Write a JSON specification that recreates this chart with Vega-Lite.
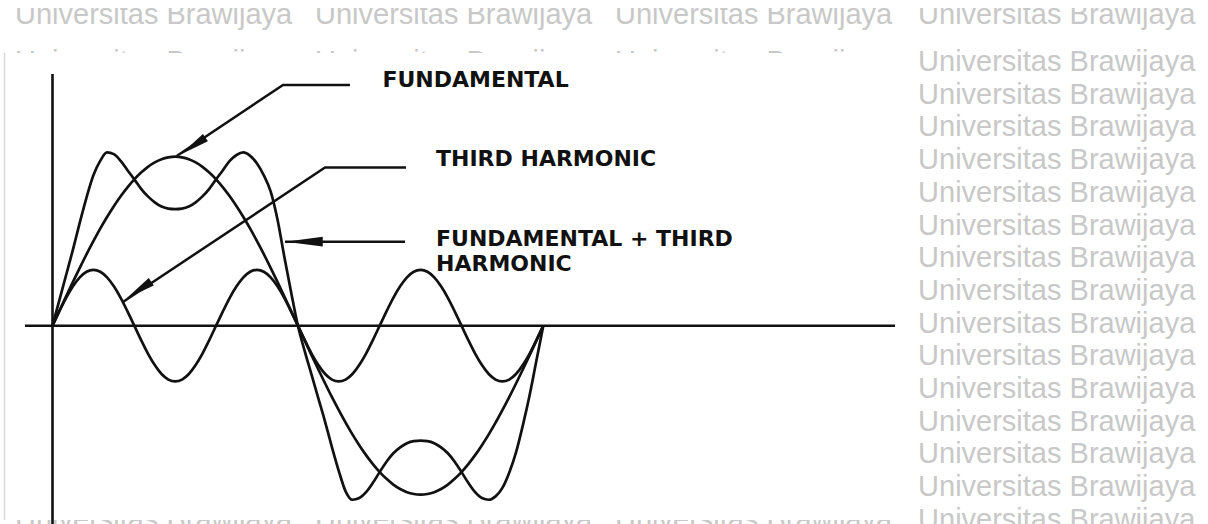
{
  "$schema": "https://vega.github.io/schema/vega-lite/v6.json",
  "width": 1208,
  "height": 524,
  "padding": 0,
  "autosize": {"type": "none"},
  "background": "white",
  "config": {"view": {"stroke": null}},
  "datasets": {
    "watermark": [
      {"label": "Universitas Brawijaya", "t": -27.51, "v": 178.52}, {"label": "Universitas Brawijaya", "t": 192.55, "v": 178.52}, {"label": "Universitas Brawijaya", "t": 412.6, "v": 178.52}, {"label": "Universitas Brawijaya", "t": 634.9, "v": 178.52},
      {"label": "Universitas Brawijaya", "t": -27.51, "v": 150.71}, {"label": "Universitas Brawijaya", "t": 192.55, "v": 150.71}, {"label": "Universitas Brawijaya", "t": 412.6, "v": 150.71}, {"label": "Universitas Brawijaya", "t": 634.9, "v": 150.71},
      {"label": "Universitas Brawijaya", "t": -27.51, "v": 131.36}, {"label": "Universitas Brawijaya", "t": 192.55, "v": 131.36}, {"label": "Universitas Brawijaya", "t": 412.6, "v": 131.36}, {"label": "Universitas Brawijaya", "t": 634.9, "v": 131.36},
      {"label": "Universitas Brawijaya", "t": -27.51, "v": 112.01}, {"label": "Universitas Brawijaya", "t": 192.55, "v": 112.01}, {"label": "Universitas Brawijaya", "t": 412.6, "v": 112.01}, {"label": "Universitas Brawijaya", "t": 634.9, "v": 112.01},
      {"label": "Universitas Brawijaya", "t": -27.51, "v": 92.66}, {"label": "Universitas Brawijaya", "t": 192.55, "v": 92.66}, {"label": "Universitas Brawijaya", "t": 412.6, "v": 92.66}, {"label": "Universitas Brawijaya", "t": 634.9, "v": 92.66},
      {"label": "Universitas Brawijaya", "t": -27.51, "v": 73.31}, {"label": "Universitas Brawijaya", "t": 192.55, "v": 73.31}, {"label": "Universitas Brawijaya", "t": 412.6, "v": 73.31}, {"label": "Universitas Brawijaya", "t": 634.9, "v": 73.31},
      {"label": "Universitas Brawijaya", "t": -27.51, "v": 53.96}, {"label": "Universitas Brawijaya", "t": 192.55, "v": 53.96}, {"label": "Universitas Brawijaya", "t": 412.6, "v": 53.96}, {"label": "Universitas Brawijaya", "t": 634.9, "v": 53.96},
      {"label": "Universitas Brawijaya", "t": -27.51, "v": 34.62}, {"label": "Universitas Brawijaya", "t": 192.55, "v": 34.62}, {"label": "Universitas Brawijaya", "t": 412.6, "v": 34.62}, {"label": "Universitas Brawijaya", "t": 634.9, "v": 34.62},
      {"label": "Universitas Brawijaya", "t": -27.51, "v": 15.27}, {"label": "Universitas Brawijaya", "t": 192.55, "v": 15.27}, {"label": "Universitas Brawijaya", "t": 412.6, "v": 15.27}, {"label": "Universitas Brawijaya", "t": 634.9, "v": 15.27},
      {"label": "Universitas Brawijaya", "t": -27.51, "v": -4.08}, {"label": "Universitas Brawijaya", "t": 192.55, "v": -4.08}, {"label": "Universitas Brawijaya", "t": 412.6, "v": -4.08}, {"label": "Universitas Brawijaya", "t": 634.9, "v": -4.08},
      {"label": "Universitas Brawijaya", "t": -27.51, "v": -23.43}, {"label": "Universitas Brawijaya", "t": 192.55, "v": -23.43}, {"label": "Universitas Brawijaya", "t": 412.6, "v": -23.43}, {"label": "Universitas Brawijaya", "t": 634.9, "v": -23.43},
      {"label": "Universitas Brawijaya", "t": -27.51, "v": -42.78}, {"label": "Universitas Brawijaya", "t": 192.55, "v": -42.78}, {"label": "Universitas Brawijaya", "t": 412.6, "v": -42.78}, {"label": "Universitas Brawijaya", "t": 634.9, "v": -42.78},
      {"label": "Universitas Brawijaya", "t": -27.51, "v": -62.13}, {"label": "Universitas Brawijaya", "t": 192.55, "v": -62.13}, {"label": "Universitas Brawijaya", "t": 412.6, "v": -62.13}, {"label": "Universitas Brawijaya", "t": 634.9, "v": -62.13},
      {"label": "Universitas Brawijaya", "t": -27.51, "v": -81.48}, {"label": "Universitas Brawijaya", "t": 192.55, "v": -81.48}, {"label": "Universitas Brawijaya", "t": 412.6, "v": -81.48}, {"label": "Universitas Brawijaya", "t": 634.9, "v": -81.48},
      {"label": "Universitas Brawijaya", "t": -27.51, "v": -100.83}, {"label": "Universitas Brawijaya", "t": 192.55, "v": -100.83}, {"label": "Universitas Brawijaya", "t": 412.6, "v": -100.83}, {"label": "Universitas Brawijaya", "t": 634.9, "v": -100.83},
      {"label": "Universitas Brawijaya", "t": -27.51, "v": -120.18}, {"label": "Universitas Brawijaya", "t": 192.55, "v": -120.18}, {"label": "Universitas Brawijaya", "t": 412.6, "v": -120.18}, {"label": "Universitas Brawijaya", "t": 634.9, "v": -120.18}
    ],
    "topCrop": [{"t": -38.51, "t2": 847.57, "v": 192.72, "v2": 187.99}],
    "sheet": [{"t": -35.58, "t2": 625.32, "v": 161.36, "v2": -114.91}],
    "sheetEdge": [{"t": -35.2, "v": 161.36, "v2": -114.91}],
    "yAxisLine": [{"t": 0, "v": 148.9, "v2": -118}],
    "xAxisLine": [{"t": -20.17, "t2": 617.98, "v": 0}],
    "waves": [
      {"t": 0, "fundamental": 0, "third_harmonic": 0, "sum": 0},
      {"t": 5, "fundamental": 8.7, "third_harmonic": 8.5, "sum": 15},
      {"t": 10, "fundamental": 17.4, "third_harmonic": 16.5, "sum": 30},
      {"t": 15, "fundamental": 25.9, "third_harmonic": 23.3, "sum": 45},
      {"t": 20, "fundamental": 34.2, "third_harmonic": 28.6, "sum": 61},
      {"t": 25, "fundamental": 42.3, "third_harmonic": 31.9, "sum": 76},
      {"t": 30, "fundamental": 50, "third_harmonic": 33, "sum": 89},
      {"t": 35, "fundamental": 57.4, "third_harmonic": 31.9, "sum": 97.5},
      {"t": 40, "fundamental": 64.3, "third_harmonic": 28.6, "sum": 102.5},
      {"t": 45, "fundamental": 70.7, "third_harmonic": 23.3, "sum": 101.5},
      {"t": 50, "fundamental": 76.6, "third_harmonic": 16.5, "sum": 97.5},
      {"t": 55, "fundamental": 81.9, "third_harmonic": 8.5, "sum": 92},
      {"t": 60, "fundamental": 86.6, "third_harmonic": 0, "sum": 86.6},
      {"t": 65, "fundamental": 90.6, "third_harmonic": -8.5, "sum": 81},
      {"t": 70, "fundamental": 94, "third_harmonic": -16.5, "sum": 76.5},
      {"t": 75, "fundamental": 96.6, "third_harmonic": -23.3, "sum": 73},
      {"t": 80, "fundamental": 98.5, "third_harmonic": -28.6, "sum": 70.5},
      {"t": 85, "fundamental": 99.6, "third_harmonic": -31.9, "sum": 69.3},
      {"t": 90, "fundamental": 100, "third_harmonic": -33, "sum": 69},
      {"t": 95, "fundamental": 99.6, "third_harmonic": -31.9, "sum": 69.3},
      {"t": 100, "fundamental": 98.5, "third_harmonic": -28.6, "sum": 70.5},
      {"t": 105, "fundamental": 96.6, "third_harmonic": -23.3, "sum": 73},
      {"t": 110, "fundamental": 94, "third_harmonic": -16.5, "sum": 76.5},
      {"t": 115, "fundamental": 90.6, "third_harmonic": -8.5, "sum": 81},
      {"t": 120, "fundamental": 86.6, "third_harmonic": 0, "sum": 86.6},
      {"t": 125, "fundamental": 81.9, "third_harmonic": 8.5, "sum": 92},
      {"t": 130, "fundamental": 76.6, "third_harmonic": 16.5, "sum": 97.5},
      {"t": 135, "fundamental": 70.7, "third_harmonic": 23.3, "sum": 101},
      {"t": 140, "fundamental": 64.3, "third_harmonic": 28.6, "sum": 102.5},
      {"t": 145, "fundamental": 57.4, "third_harmonic": 31.9, "sum": 100.5},
      {"t": 150, "fundamental": 50, "third_harmonic": 33, "sum": 96},
      {"t": 155, "fundamental": 42.3, "third_harmonic": 31.9, "sum": 89},
      {"t": 160, "fundamental": 34.2, "third_harmonic": 28.6, "sum": 79.5},
      {"t": 165, "fundamental": 25.9, "third_harmonic": 23.3, "sum": 63},
      {"t": 170, "fundamental": 17.4, "third_harmonic": 16.5, "sum": 41},
      {"t": 175, "fundamental": 8.7, "third_harmonic": 8.5, "sum": 20},
      {"t": 180, "fundamental": 0, "third_harmonic": 0, "sum": 0},
      {"t": 185, "fundamental": -8.7, "third_harmonic": -8.5, "sum": -15},
      {"t": 190, "fundamental": -17.4, "third_harmonic": -16.5, "sum": -29},
      {"t": 195, "fundamental": -25.9, "third_harmonic": -23.3, "sum": -43},
      {"t": 200, "fundamental": -34.2, "third_harmonic": -28.6, "sum": -57},
      {"t": 205, "fundamental": -42.3, "third_harmonic": -31.9, "sum": -72},
      {"t": 210, "fundamental": -50, "third_harmonic": -33, "sum": -86},
      {"t": 215, "fundamental": -57.4, "third_harmonic": -31.9, "sum": -98},
      {"t": 220, "fundamental": -64.3, "third_harmonic": -28.6, "sum": -103},
      {"t": 225, "fundamental": -70.7, "third_harmonic": -23.3, "sum": -102},
      {"t": 230, "fundamental": -76.6, "third_harmonic": -16.5, "sum": -98.5},
      {"t": 235, "fundamental": -81.9, "third_harmonic": -8.5, "sum": -93},
      {"t": 240, "fundamental": -86.6, "third_harmonic": 0, "sum": -86.6},
      {"t": 245, "fundamental": -90.6, "third_harmonic": 8.5, "sum": -80.5},
      {"t": 250, "fundamental": -94, "third_harmonic": 16.5, "sum": -75.5},
      {"t": 255, "fundamental": -96.6, "third_harmonic": 23.3, "sum": -72},
      {"t": 260, "fundamental": -98.5, "third_harmonic": 28.6, "sum": -69.5},
      {"t": 265, "fundamental": -99.6, "third_harmonic": 31.9, "sum": -68.3},
      {"t": 270, "fundamental": -100, "third_harmonic": 33, "sum": -68},
      {"t": 275, "fundamental": -99.6, "third_harmonic": 31.9, "sum": -68.3},
      {"t": 280, "fundamental": -98.5, "third_harmonic": 28.6, "sum": -69.5},
      {"t": 285, "fundamental": -96.6, "third_harmonic": 23.3, "sum": -72},
      {"t": 290, "fundamental": -94, "third_harmonic": 16.5, "sum": -75.5},
      {"t": 295, "fundamental": -90.6, "third_harmonic": 8.5, "sum": -80.5},
      {"t": 300, "fundamental": -86.6, "third_harmonic": 0, "sum": -86.6},
      {"t": 305, "fundamental": -81.9, "third_harmonic": -8.5, "sum": -93},
      {"t": 310, "fundamental": -76.6, "third_harmonic": -16.5, "sum": -98.5},
      {"t": 315, "fundamental": -70.7, "third_harmonic": -23.3, "sum": -102},
      {"t": 320, "fundamental": -64.3, "third_harmonic": -28.6, "sum": -103},
      {"t": 325, "fundamental": -57.4, "third_harmonic": -31.9, "sum": -101},
      {"t": 330, "fundamental": -50, "third_harmonic": -33, "sum": -96},
      {"t": 335, "fundamental": -42.3, "third_harmonic": -31.9, "sum": -87},
      {"t": 340, "fundamental": -34.2, "third_harmonic": -28.6, "sum": -75},
      {"t": 345, "fundamental": -25.9, "third_harmonic": -23.3, "sum": -59},
      {"t": 350, "fundamental": -17.4, "third_harmonic": -16.5, "sum": -41},
      {"t": 355, "fundamental": -8.7, "third_harmonic": -8.5, "sum": -20.5},
      {"t": 360, "fundamental": 0, "third_harmonic": 0, "sum": 0}
    ],
    "leaders": [
      {"leader": "fundamental", "step": 1, "t": 218.2, "v": 142.43},
      {"leader": "fundamental", "step": 2, "t": 169.07, "v": 142.43},
      {"leader": "fundamental", "step": 3, "t": 91.1, "v": 100.4},
      {"leader": "third", "step": 1, "t": 259.3, "v": 93.6},
      {"leader": "third", "step": 2, "t": 199.9, "v": 93.6},
      {"leader": "third", "step": 3, "t": 51.93, "v": 14.2},
      {"leader": "sum", "step": 1, "t": 258.6, "v": 49.7},
      {"leader": "sum", "step": 2, "t": 170.5, "v": 49.7}
    ],
    "arrowheads": [
      {"leader": "fundamental", "t": 103.06, "v": 106.33},
      {"leader": "third", "t": 63.3, "v": 21.0},
      {"leader": "sum", "t": 184.5, "v": 49.7}
    ],
    "labels": [
      {"label": "FUNDAMENTAL", "t": 241.98, "v": 141.24},
      {"label": "THIRD HARMONIC", "t": 281.3, "v": 94.5},
      {"label": "FUNDAMENTAL + THIRD", "t": 281.3, "v": 47.16},
      {"label": "HARMONIC", "t": 281.3, "v": 32.37}
    ]
  },
  "encoding": {
    "x": {"field": "t", "type": "quantitative", "scale": {"domain": [-38.51, 847.57], "nice": false, "zero": false}, "axis": null},
    "y": {"field": "v", "type": "quantitative", "scale": {"domain": [-117.34, 192.72], "nice": false, "zero": false}, "axis": null}
  },
  "layer": [
    {
      "data": {"name": "watermark"},
      "mark": {"type": "text", "align": "left", "baseline": "alphabetic", "font": "Liberation Sans", "fontSize": 29, "color": "#c8c8c8"},
      "encoding": {"text": {"field": "label"}}
    },
    {
      "data": {"name": "topCrop"},
      "mark": {"type": "rect", "fill": "white", "strokeWidth": 0},
      "encoding": {"x2": {"field": "t2"}, "y2": {"field": "v2"}}
    },
    {
      "data": {"name": "sheet"},
      "mark": {"type": "rect", "fill": "white", "strokeWidth": 0},
      "encoding": {"x2": {"field": "t2"}, "y2": {"field": "v2"}}
    },
    {
      "data": {"name": "sheetEdge"},
      "mark": {"type": "rule", "color": "#d8d8d8", "strokeWidth": 1.5},
      "encoding": {"y2": {"field": "v2"}}
    },
    {
      "data": {"name": "yAxisLine"},
      "mark": {"type": "rule", "color": "#111111", "strokeWidth": 2.6},
      "encoding": {"y2": {"field": "v2"}}
    },
    {
      "data": {"name": "xAxisLine"},
      "mark": {"type": "rule", "color": "#111111", "strokeWidth": 2.6},
      "encoding": {"x2": {"field": "t2"}}
    },
    {
      "data": {"name": "waves"},
      "transform": [{"fold": ["fundamental", "third_harmonic", "sum"], "as": ["series", "v"]}],
      "mark": {"type": "line", "interpolate": "monotone", "color": "#111111", "strokeWidth": 2.7},
      "encoding": {"detail": {"field": "series", "type": "nominal"}}
    },
    {
      "data": {"name": "leaders"},
      "mark": {"type": "line", "color": "#111111", "strokeWidth": 2.5},
      "encoding": {"detail": {"field": "leader", "type": "nominal"}, "order": {"field": "step", "type": "quantitative"}}
    },
    {
      "data": {"name": "arrowheads"},
      "transform": [{"filter": "datum.leader !== 'sum'"}],
      "mark": {"type": "point", "shape": "M0,-1L0.3,1L-0.3,1Z", "filled": true, "color": "#111111", "opacity": 1, "size": 900, "angle": 236, "strokeWidth": 0}
    },
    {
      "data": {"name": "arrowheads"},
      "transform": [{"filter": "datum.leader === 'sum'"}],
      "mark": {"type": "point", "shape": "M0,-1L0.26,1L-0.26,1Z", "filled": true, "color": "#111111", "opacity": 1, "size": 1400, "angle": 270, "strokeWidth": 0}
    },
    {
      "data": {"name": "labels"},
      "mark": {"type": "text", "align": "left", "baseline": "alphabetic", "font": "DejaVu Sans", "fontWeight": "bold", "fontSize": 22, "color": "#111111"},
      "encoding": {"text": {"field": "label"}}
    }
  ]
}
